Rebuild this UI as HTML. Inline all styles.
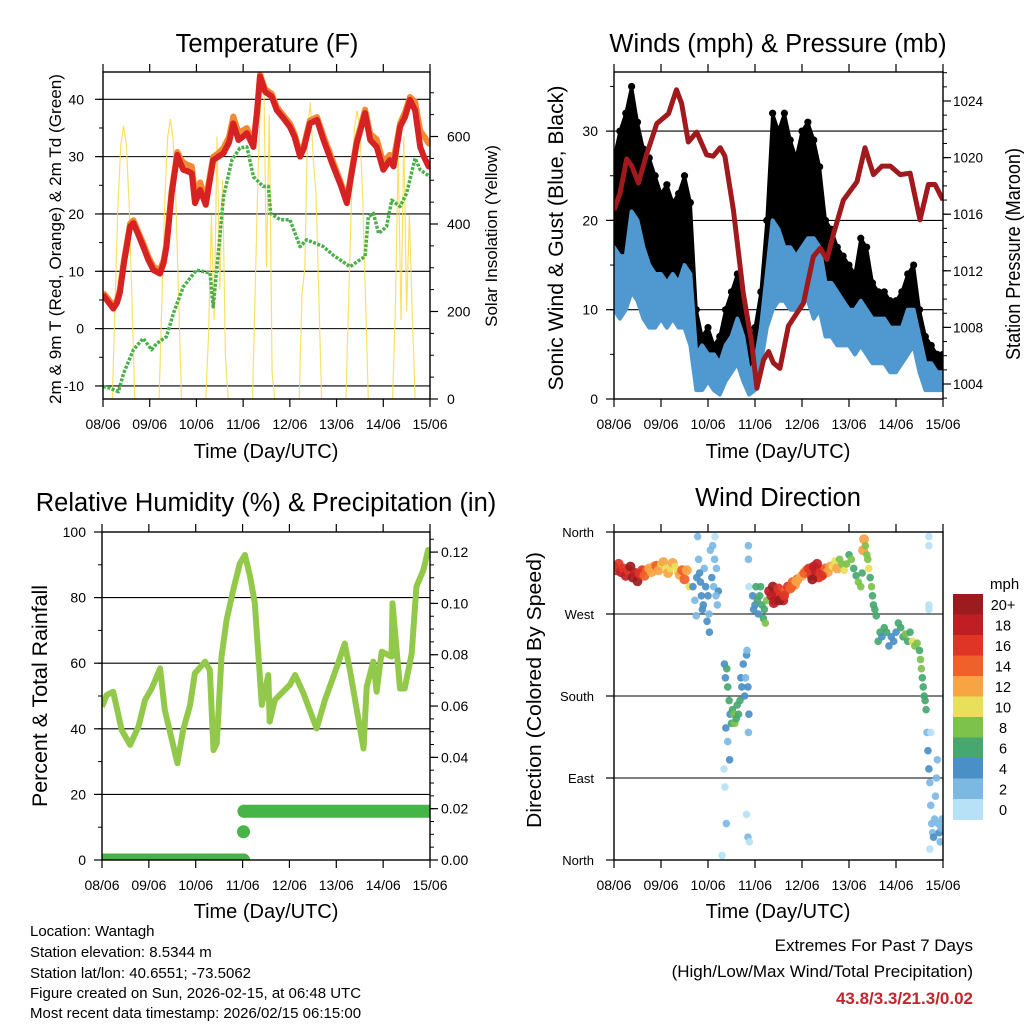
<!DOCTYPE html>
<html><head><meta charset="utf-8"><style>
html,body{margin:0;padding:0;background:#fff;}
svg{display:block;font-family:"Liberation Sans",Arial,sans-serif;}
</style></head><body>
<svg id="chart" width="1024" height="1024" viewBox="0 0 1024 1024" xmlns="http://www.w3.org/2000/svg">
<rect width="1024" height="1024" fill="#fff"/>
<defs>
<clipPath id="c1"><rect x="103" y="72" width="327" height="327"/></clipPath>
<clipPath id="c2"><rect x="614" y="72" width="329" height="327"/></clipPath>
<clipPath id="c3"><rect x="102" y="532" width="328" height="328"/></clipPath>
<clipPath id="c4"><rect x="614" y="532" width="329" height="328"/></clipPath>
</defs>
<g id="layer"></g>
<text x="267" y="52" font-size="25.5" text-anchor="middle">Temperature (F)</text>
<text x="778" y="52" font-size="25.5" text-anchor="middle">Winds (mph) &amp; Pressure (mb)</text>
<text x="266" y="511" font-size="25.5" text-anchor="middle">Relative Humidity (%) &amp; Precipitation (in)</text>
<text x="778" y="506" font-size="25.5" text-anchor="middle">Wind Direction</text>
<text transform="translate(61,239) rotate(-90)" font-size="16.5" textLength="330" lengthAdjust="spacingAndGlyphs" text-anchor="middle">2m &amp; 9m T (Red, Orange) &amp; 2m Td (Green)</text>
<text transform="translate(497,236) rotate(-90)" font-size="17" text-anchor="middle">Solar Insolation (Yellow)</text>
<text transform="translate(563,238) rotate(-90)" font-size="21" textLength="305" lengthAdjust="spacingAndGlyphs" text-anchor="middle">Sonic Wind &amp; Gust (Blue, Black)</text>
<text transform="translate(1020,254) rotate(-90)" font-size="20" textLength="212" lengthAdjust="spacingAndGlyphs" text-anchor="middle">Station Pressure (Maroon)</text>
<text transform="translate(47,696) rotate(-90)" font-size="21" textLength="222" lengthAdjust="spacingAndGlyphs" text-anchor="middle">Percent &amp; Total Rainfall</text>
<text transform="translate(541,690) rotate(-90)" font-size="20" textLength="276" lengthAdjust="spacingAndGlyphs" text-anchor="middle">Direction (Colored By Speed)</text>
<text x="266" y="458" font-size="20" text-anchor="middle">Time (Day/UTC)</text>
<text x="778" y="458" font-size="20" text-anchor="middle">Time (Day/UTC)</text>
<text x="266" y="918" font-size="20" text-anchor="middle">Time (Day/UTC)</text>
<text x="778" y="918" font-size="20" text-anchor="middle">Time (Day/UTC)</text>
<g font-size="15">
<text x="30" y="936">Location: Wantagh</text>
<text x="30" y="957">Station elevation: 8.5344 m</text>
<text x="30" y="978">Station lat/lon: 40.6551; -73.5062</text>
<text x="30" y="998">Figure created on Sun, 2026-02-15, at 06:48 UTC</text>
<text x="30" y="1018">Most recent data timestamp: 2026/02/15 06:15:00</text>
</g>
<text x="973" y="951" font-size="17" text-anchor="end">Extremes For Past 7 Days</text>
<text x="973" y="977" font-size="17" text-anchor="end">(High/Low/Max Wind/Total Precipitation)</text>
<text x="973" y="1004" font-size="17" font-weight="bold" fill="#c0272d" text-anchor="end">43.8/3.3/21.3/0.02</text>
<text x="990" y="589" font-size="15">mph</text>
</svg>
<script>
// ---------- data ----------
const dayLabels = ["08/06","09/06","10/06","11/06","12/06","13/06","14/06","15/06"];
const tempT = [0,0.1,0.22,0.3,0.36,0.45,0.58,0.65,0.75,0.86,0.97,1.08,1.22,1.3,1.36,1.47,1.59,1.65,1.72,1.8,1.9,1.97,2.08,2.2,2.28,2.36,2.47,2.58,2.7,2.79,2.9,3.0,3.08,3.22,3.3,3.36,3.47,3.61,3.72,3.85,4.0,4.1,4.22,4.3,4.43,4.58,4.72,4.93,5.1,5.22,5.3,5.43,5.61,5.72,5.86,6.0,6.14,6.22,6.36,6.47,6.57,6.68,6.79,6.88,6.97,7.0];
const tempRed = [5.9,4.8,3.5,4.5,6.2,11.5,17.8,18.4,16.5,14.3,12.0,10.2,9.6,11.5,14.3,23.6,30.3,29.0,27.7,27.5,27.1,21.9,24.2,21.6,25.5,29.4,30.0,30.6,32.5,35.8,32.9,33.5,34.1,31.7,38.0,44,41.3,40.5,38.1,36.8,35.2,33.5,30.0,31.5,35.8,36.4,32.9,28.3,24.8,21.9,26.0,32.3,37.6,32.9,31.7,27.7,29.4,28.3,35.2,37.0,39.9,38.1,31.7,29.8,28.3,28.8];
const tempOrange = [6.3,5.3,4.0,5.0,6.8,12.0,18.3,18.9,17.0,14.9,12.6,10.8,10.2,12.0,14.8,24.2,30.8,29.8,29.0,28.6,28.3,23.5,25.5,22.5,26.3,30.0,30.6,31.5,33.5,37.0,34.2,34.6,35.0,32.4,38.4,44.3,41.8,41.0,38.7,37.3,35.8,34.0,30.6,32.0,36.3,36.9,33.6,29.0,25.3,22.4,26.5,32.8,38.2,34.0,33.0,29.0,30.3,29.5,35.8,37.8,40.4,39.6,34.5,33.5,32.3,32.5];
const dewT = [0,0.15,0.33,0.44,0.65,0.86,1.04,1.15,1.36,1.51,1.72,2.0,2.29,2.36,2.44,2.58,2.76,2.93,3.08,3.22,3.43,3.54,3.59,3.79,4.0,4.22,4.36,4.72,4.93,5.29,5.5,5.61,5.68,5.79,5.9,6.07,6.18,6.36,6.5,6.68,6.79,7.0];
const dewV = [-10.1,-10.4,-11,-7.8,-3.7,-1.7,-3.7,-2.6,-1.4,2.7,7.3,10.2,9.7,3.8,10.8,23.0,29.4,31.5,31.7,26.5,24.8,24.8,20.1,19.0,19.0,14.3,15.5,14.3,12.8,10.8,12.0,12.6,19.5,20.1,16.6,17.8,22.4,21.3,23.6,29.7,27.7,26.5];
const solarOffsets = [0.2,0.26,0.32,0.38,0.44,0.5,0.56,0.62,0.68];
const solarDays = [
 [0,220,440,580,625,580,440,220,0],
 [0,225,450,595,640,595,450,225,0],
 [0,150,420,180,600,250,500,100,0],
 [0,260,520,700,745,300,650,60,0],
 [0,240,300,620,678,550,470,240,0],
 [0,230,460,615,660,615,460,230,0],
 [0,210,560,180,600,200,420,200,0]
];
const windT = [0,0.125,0.25,0.375,0.5,0.625,0.75,0.875,1,1.125,1.25,1.375,1.5,1.625,1.75,1.875,2,2.125,2.25,2.375,2.5,2.625,2.75,2.875,3,3.125,3.25,3.375,3.5,3.625,3.75,3.875,4,4.125,4.25,4.375,4.5,4.625,4.75,4.875,5,5.125,5.25,5.375,5.5,5.625,5.75,5.875,6,6.125,6.25,6.375,6.5,6.625,6.75,6.875,7];
const windLo = [10,9,10,12,11,9,8,8,9,8,9,8,8,6,1,1,2,1,0.5,2,3,4,2,0.5,1,4,8,10,11,11,10,10,11,11,9,10,7,7,6,6,6,5,6,5,4,4,4,3,3,4,5,6,3,1,1,1,1];
const windHi = [17,16,16,21,20,17,15,14,14,13,14,13,15,14,5,6,5,5,4,6,7,9,7,3,4,8,14,20,19,17,17,16,17,18,18,17,13,13,12,11,10,10,11,10,9,9,9,8,8,8,10,10,7,4,4,3,3];
const gustLo = [15,14,16,18,16,14,13,12,13,12,13,12,13,10,3,3,3,2,2,4,5,7,4,2,3,6,12,16,15,16,15,15,16,15,13,14,10,9,8,8,8,7,8,7,6,6,6,5,5,5,7,7,4,3,3,3,3];
const gustHi = [27,30,32,35,31,28,27,25,23,24,22,23,25,22,10,7,8,6,7,10,12,14,10,6,8,12,20,32,30,32,29,27,30,31,29,26,20,19,17,16,15,14,18,17,13,12,12,11,11,12,14,15,10,7,6,5,5];
const presT = [0,0.13,0.27,0.38,0.52,0.7,0.91,1.16,1.33,1.44,1.58,1.76,1.97,2.11,2.26,2.36,2.54,2.75,2.93,3.04,3.18,3.29,3.39,3.53,3.71,3.89,4.03,4.24,4.39,4.53,4.67,4.88,5.17,5.34,5.52,5.7,5.88,6.09,6.3,6.51,6.69,6.83,7.0];
const presV = [1016.3,1017.5,1019.9,1019.4,1018.2,1020.3,1022.4,1023.1,1024.8,1023.8,1021.1,1021.8,1020.2,1020.1,1020.7,1020.1,1016.3,1010.4,1006.9,1003.7,1005.7,1006.3,1005.5,1005.1,1008.1,1009.0,1009.7,1013.0,1013.6,1012.8,1014.6,1017.0,1018.3,1020.7,1018.8,1019.4,1019.4,1018.8,1018.9,1015.6,1018.1,1018.1,1017.0];
const rhT = [0,0.1,0.24,0.42,0.6,0.78,0.92,1.06,1.24,1.34,1.61,1.73,1.88,1.98,2.2,2.3,2.38,2.45,2.55,2.66,2.8,2.94,3.05,3.16,3.26,3.41,3.55,3.58,3.69,4.01,4.12,4.3,4.58,4.76,5.04,5.18,5.29,5.58,5.65,5.79,5.86,5.97,6.18,6.2,6.36,6.46,6.61,6.71,6.86,6.96,7.0];
const rhV = [46.7,50.3,51.3,39.6,35.1,40.7,48.8,52.3,58.4,45.7,29.5,39.6,47.3,56.9,60.5,57.9,33.5,35.6,62,73.2,82.3,90.4,93.0,86.4,78.3,47.3,56.4,42.2,48.8,53.4,56.4,50.8,40.1,48.8,60,66,57.9,34,52.8,60.5,51.3,63.5,62,78.3,52.3,52.3,63,83.3,88.4,94.5,93.5];
const precipT = [0,3.02,3.02,3.03,7];
const precipV = [0,0,0.011,0.019,0.019];
const wdT = [0.0,0.05,0.1,0.15,0.2,0.25,0.3,0.35,0.4,0.45,0.5,0.55,0.6,0.65,0.7,0.75,0.8,0.85,0.9,0.95,1.0,1.05,1.1,1.15,1.2,1.25,1.3,1.35,1.4,1.45,1.5,1.55,1.6,
 1.68,1.72,1.76,1.78,1.8,1.84,1.86,1.9,1.92,1.95,2.0,2.02,2.05,2.08,2.1,2.12,2.15,2.18,2.2,2.22,1.75,1.82,1.88,1.98,2.03,2.14,2.17,
 2.35,2.37,2.4,2.42,2.45,2.47,2.5,2.52,2.55,2.57,2.6,2.62,2.65,2.68,2.7,2.72,2.75,2.78,2.8,2.82,2.85,2.87,2.38,2.42,2.46,2.83,2.86,2.34,2.36,2.39,2.82,2.85,2.3,2.88,
 2.86,2.86,2.87,2.95,2.97,3.0,3.02,3.05,3.07,3.1,3.12,3.15,3.18,3.2,3.22,3.25,
 3.3,3.35,3.38,3.42,3.45,3.5,3.55,3.6,3.65,3.7,3.75,3.8,3.85,3.9,3.95,4.0,3.4,3.52,3.62,3.78,3.88,
 4.05,4.1,4.15,4.2,4.25,4.3,4.35,4.4,4.45,4.5,4.55,4.6,4.22,4.32,4.42,
 4.65,4.7,4.75,4.8,4.85,4.9,4.95,5.0,5.05,5.1,5.15,5.2,5.25,5.28,
 5.3,5.32,5.35,5.38,5.4,5.42,5.45,5.48,5.5,5.52,5.55,5.58,
 5.62,5.66,5.7,5.75,5.8,5.85,5.9,5.95,6.0,6.05,6.1,6.15,6.2,6.25,6.3,6.35,6.4,6.45,6.5,
 6.52,6.54,6.56,6.58,6.6,6.62,6.64,
 6.66,6.68,6.7,6.72,6.74,6.76,6.78,6.8,6.82,6.84,6.86,6.88,6.9,6.92,6.94,6.96,6.98,6.72,6.74,6.7,6.7,6.7,6.7];
const wdDir = [322,318,325,316,320,312,318,322,310,315,306,314,318,312,318,320,316,322,323,318,325,327,320,315,320,326,322,316,313,318,308,318,300,
 300,285,310,355,330,305,290,280,320,300,290,270,340,310,345,300,355,320,280,295,268,315,275,262,250,330,290,
 215,200,210,190,175,160,150,165,160,150,155,170,160,175,200,190,215,180,200,225,190,160,145,130,110,230,140,100,80,40,50,25,5,20,
 345,330,300,290,275,280,300,285,270,290,300,280,265,275,260,285,
 295,290,300,285,292,298,290,285,295,300,298,305,302,308,310,312,282,285,290,300,306,
 315,318,320,312,322,316,310,318,314,320,316,322,308,325,312,
 322,328,320,330,325,318,325,335,330,320,312,305,300,315,
 340,352,345,335,330,320,310,300,290,280,275,268,
 240,250,245,255,250,235,245,240,250,260,255,245,248,240,250,240,235,238,230,
 220,210,200,190,180,175,165,
 140,120,100,85,60,40,30,25,45,70,90,110,40,30,20,35,45,12,140,355,345,280,275];
const wdSpd = [18,16,17,19,16,18,17,20,20,18,21,17,16,15,14,13,12,12,14,13,11,12,10,12,11,12,11,10,13,14,14,13,10,
 4,3,4,2,3,4,5,4,3,4,4,3,2,4,3,2,1,2,3,4,3,4,4,5,4,2,3,
 4,5,6,7,6,5,6,7,8,8,7,6,7,6,5,4,4,5,3,4,5,4,4,3,4,2,3,1,1,2,1,2,1,0,
 2,2,1,4,4,5,6,6,5,7,6,6,7,6,9,8,
 19,18,20,21,19,17,16,18,15,16,14,15,12,14,11,13,18,20,16,14,13,
 14,15,16,17,19,18,17,16,18,15,13,12,20,18,16,
 11,10,12,9,8,10,9,7,8,6,7,8,9,7,
 12,13,8,9,8,10,7,8,6,7,6,7,
 6,6,5,7,6,4,4,5,4,6,7,6,8,7,7,10,8,8,7,
 8,8,7,7,6,6,6,
 3,4,4,3,2,2,3,4,3,2,3,2,3,4,3,2,2,1,0,0,1,1,0];
const speedColors = ["#b7e1f6","#7db8e3","#4a8fc6","#46a86f","#7dc24b","#e8e05a","#f7a445","#f0602a","#de3527","#bf1e24","#9b1b1e"];
const speedLabels = ["0","2","4","6","8","10","12","14","16","18","20+"];
const tempTicks = [-10,0,10,20,30,40];
const solarTicks = [0,200,400,600];
const windTicks = [0,10,20,30];
const presTicks = [1004,1008,1012,1016,1020,1024];
const rhTicks = [0,20,40,60,80,100];
const precipTicks = [0,0.02,0.04,0.06,0.08,0.10,0.12];
const dirTicks = [0,90,180,270,360];
const dirLabels = ["North","East","South","West","North"];

// ---------- helpers ----------
const NS = "http://www.w3.org/2000/svg";
const layer = document.getElementById("layer");
function mk(tag, attrs, parent){ const e=document.createElementNS(NS,tag); for(const k in attrs) e.setAttribute(k,attrs[k]); (parent||layer).appendChild(e); return e; }
const P = {
 p1:{x0:103,x1:430,y0:72,y1:399},
 p2:{x0:614,x1:943,y0:72,y1:399},
 p3:{x0:102,x1:430,y0:532,y1:860},
 p4:{x0:614,x1:943,y0:532,y1:860}
};
function xs(p,t){ return p.x0 + t/7*(p.x1-p.x0); }
const yTemp = v => 99.3 + (40-v)*5.733;
const ySolar = v => 399 - v*87.5/200;
const yWind = v => 399 - v*8.93;
const yPres = v => 101 + (1024-v)*14.15;
const yRH = v => 860 - v*3.28;
const yPrec = v => 860 - v*2566;
const yDir = v => 860 - v/360*328;
function pts(p,T,V,yf){ return T.map((t,i)=>xs(p,t).toFixed(1)+","+yf(V[i]).toFixed(1)).join(" "); }

function gridAndFrame(p,key,grids){
  grids.forEach(y=>{ const l=mk("line",{x1:p.x0,x2:p.x1,y1:y,y2:y,stroke:"#000","stroke-width":1.1});
   
    });
}
function frame(p,key){
  const r=mk("rect",{x:p.x0,y:p.y0,width:p.x1-p.x0,height:p.y1-p.y0,fill:"none",stroke:"#000","stroke-width":1.4});
  
  
  for(let d=0; d<=7; d++){
    const x=xs(p,d);
    const a=mk("line",{x1:x,x2:x,y1:p.y1,y2:p.y1+8,stroke:"#000","stroke-width":1.2});
    
    
    const b=mk("line",{x1:x,x2:x,y1:p.y0,y2:p.y0-8,stroke:"#000","stroke-width":1.2});
    
    
    const t=mk("text",{x:x,y:p.y1+30,"font-size":14,"text-anchor":"middle"});
    t.textContent=dayLabels[d];
    
    
  }
}
function yAxis(p,key,side,ticks,yf,minorStep,labelFn,labelX,anchor,size){
  const x = side==="left"?p.x0:p.x1, dir = side==="left"?-1:1;
  ticks.forEach(v=>{
    const y=yf(v);
    const l=mk("line",{x1:x,x2:x+dir*8,y1:y,y2:y,stroke:"#000","stroke-width":1.2});
    
    
    const t=mk("text",{x:labelX,y:y+5,"font-size":size||14,"text-anchor":anchor});
    t.textContent=labelFn(v);
    
    
  });
  if(minorStep){
    const lo=Math.min(...ticks)-minorStep*3, hi=Math.max(...ticks)+minorStep*3;
    for(let v=lo; v<=hi+1e-9; v+=minorStep){
      const y=yf(v); if(y<p.y0-0.5||y>p.y1+0.5) continue;
      const l=mk("line",{x1:x,x2:x+dir*4,y1:y,y2:y,stroke:"#000","stroke-width":1});
      
      
    }
  }
}

// ---------- Panel 1: temperature ----------
(function(){
 const p=P.p1;
 gridAndFrame(p,'temp',tempTicks.map(yTemp));
 const g=mk("g",{"clip-path":"url(#c1)"});
 
 
 solarDays.forEach((vals,d)=>{
   const T=solarOffsets.map(o=>d+o);
   const l=mk("polyline",{points:pts(p,T,vals,ySolar),fill:"none",stroke:"#f8dc4a","stroke-width":1.2,"stroke-opacity":0.85},g);
   
   
 });
 const dw=mk("polyline",{points:pts(p,dewT,dewV,yTemp),fill:"none",stroke:"#4cb04a","stroke-width":3.5,"stroke-dasharray":"3 1.5","stroke-linejoin":"round"},g);
 
 
 const o=mk("polyline",{points:pts(p,tempT,tempOrange,yTemp),fill:"none",stroke:"#f28a33","stroke-width":6,"stroke-linejoin":"round"},g);
 
 
 const r=mk("polyline",{points:pts(p,tempT,tempRed,yTemp),fill:"none",stroke:"#d62222","stroke-width":6,"stroke-linejoin":"round"},g);
 
 
 frame(p,'temp');
 yAxis(p,'temp','left',tempTicks,yTemp,5,v=>String(v),84,"end");
 yAxis(p,'solar','right',solarTicks,ySolar,50,v=>String(v),447,"start");
})();

// ---------- Panel 2: winds ----------
(function(){
 const p=P.p2;
 gridAndFrame(p,'wind',[10,20,30].map(yWind));
 const g=mk("g",{"clip-path":"url(#c2)"});
 
 
 const gp = pts(p,windT,gustHi,yWind)+" "+pts(p,windT.slice().reverse(),gustLo.slice().reverse(),yWind);
 const ga=mk("polygon",{points:gp,fill:"#000",stroke:"#000","stroke-width":3,"stroke-linejoin":"round"},g);
 
 
 windT.forEach((t,i)=>{
   [gustHi[i],gustLo[i]].forEach(v=>{
     const c=mk("circle",{cx:xs(p,t),cy:yWind(v),r:3.6,fill:"#000"},g);
     
     
   });
 });
 const bp = pts(p,windT,windHi,yWind)+" "+pts(p,windT.slice().reverse(),windLo.slice().reverse(),yWind);
 const ba=mk("polygon",{points:bp,fill:"#4f98d0",stroke:"#4f98d0","stroke-width":4,"stroke-linejoin":"round"},g);
 
 
 const pr=mk("polyline",{points:pts(p,presT,presV,yPres),fill:"none",stroke:"#a0191c","stroke-width":5,"stroke-linejoin":"round"},g);
 
 
 frame(p,'wind');
 yAxis(p,'wind','left',windTicks,yWind,5,v=>String(v),598,"end");
 yAxis(p,'pressure','right',presTicks,yPres,1,v=>String(v),953,"start",13.5);
})();

// ---------- Panel 3: RH & precip ----------
(function(){
 const p=P.p3;
 gridAndFrame(p,'rh',[20,40,60,80].map(yRH));
 const g=mk("g",{"clip-path":"url(#c3)"});
 
 
 const rl=mk("polyline",{points:pts(p,rhT,rhV,yRH),fill:"none",stroke:"#93c94a","stroke-width":6,"stroke-linejoin":"round"},g);
 
 
 for(let i=0;i<precipT.length;i++){
   if(i>0 && precipV[i]===precipV[i-1]){
     const l=mk("line",{x1:xs(p,precipT[i-1]),x2:xs(p,precipT[i]),y1:yPrec(precipV[i]),y2:yPrec(precipV[i]),stroke:"#46b446","stroke-width":13,"stroke-linecap":"round"},g);
     
     
   }
   const c=mk("circle",{cx:xs(p,precipT[i]),cy:yPrec(precipV[i]),r:6.5,fill:"#46b446"},g);
   
   
 }
 frame(p,'rh');
 yAxis(p,'rh','left',rhTicks,yRH,10,v=>String(v),86,"end");
 yAxis(p,'precip','right',precipTicks,yPrec,0.005,v=>v.toFixed(2),441,"start");
})();

// ---------- Panel 4: wind direction ----------
(function(){
 const p=P.p4;
 gridAndFrame(p,'dir',[90,180,270].map(yDir));
 const g=mk("g",{"clip-path":"url(#c4)"});
 
 
 wdT.forEach((t,i)=>{
   const bin=Math.min(10,Math.floor(wdSpd[i]/2));
   const c=mk("circle",{cx:xs(p,t),cy:yDir(wdDir[i]),r:bin>=6?5:3.8,fill:speedColors[bin],"fill-opacity":0.92},g);
   
   
 });
 frame(p,'dir');
 yAxis(p,'dir','left',dirTicks,yDir,0,(v)=>dirLabels[dirTicks.indexOf(v)],594,"end",13);
 const cbX=953, cbW=30, cbTop=594, cbH=20.5;
 for(let k=0;k<speedColors.length;k++){
   const idx=speedColors.length-1-k;
   const r=mk("rect",{x:cbX,y:cbTop+k*cbH,width:cbW,height:cbH+0.5,fill:speedColors[idx]});
   
   
   const t=mk("text",{x:1003,y:cbTop+k*cbH+16,"font-size":14.5,"text-anchor":"middle"});
   t.textContent=speedLabels[idx];
   
   
 }
})();
</script>
</body></html>
